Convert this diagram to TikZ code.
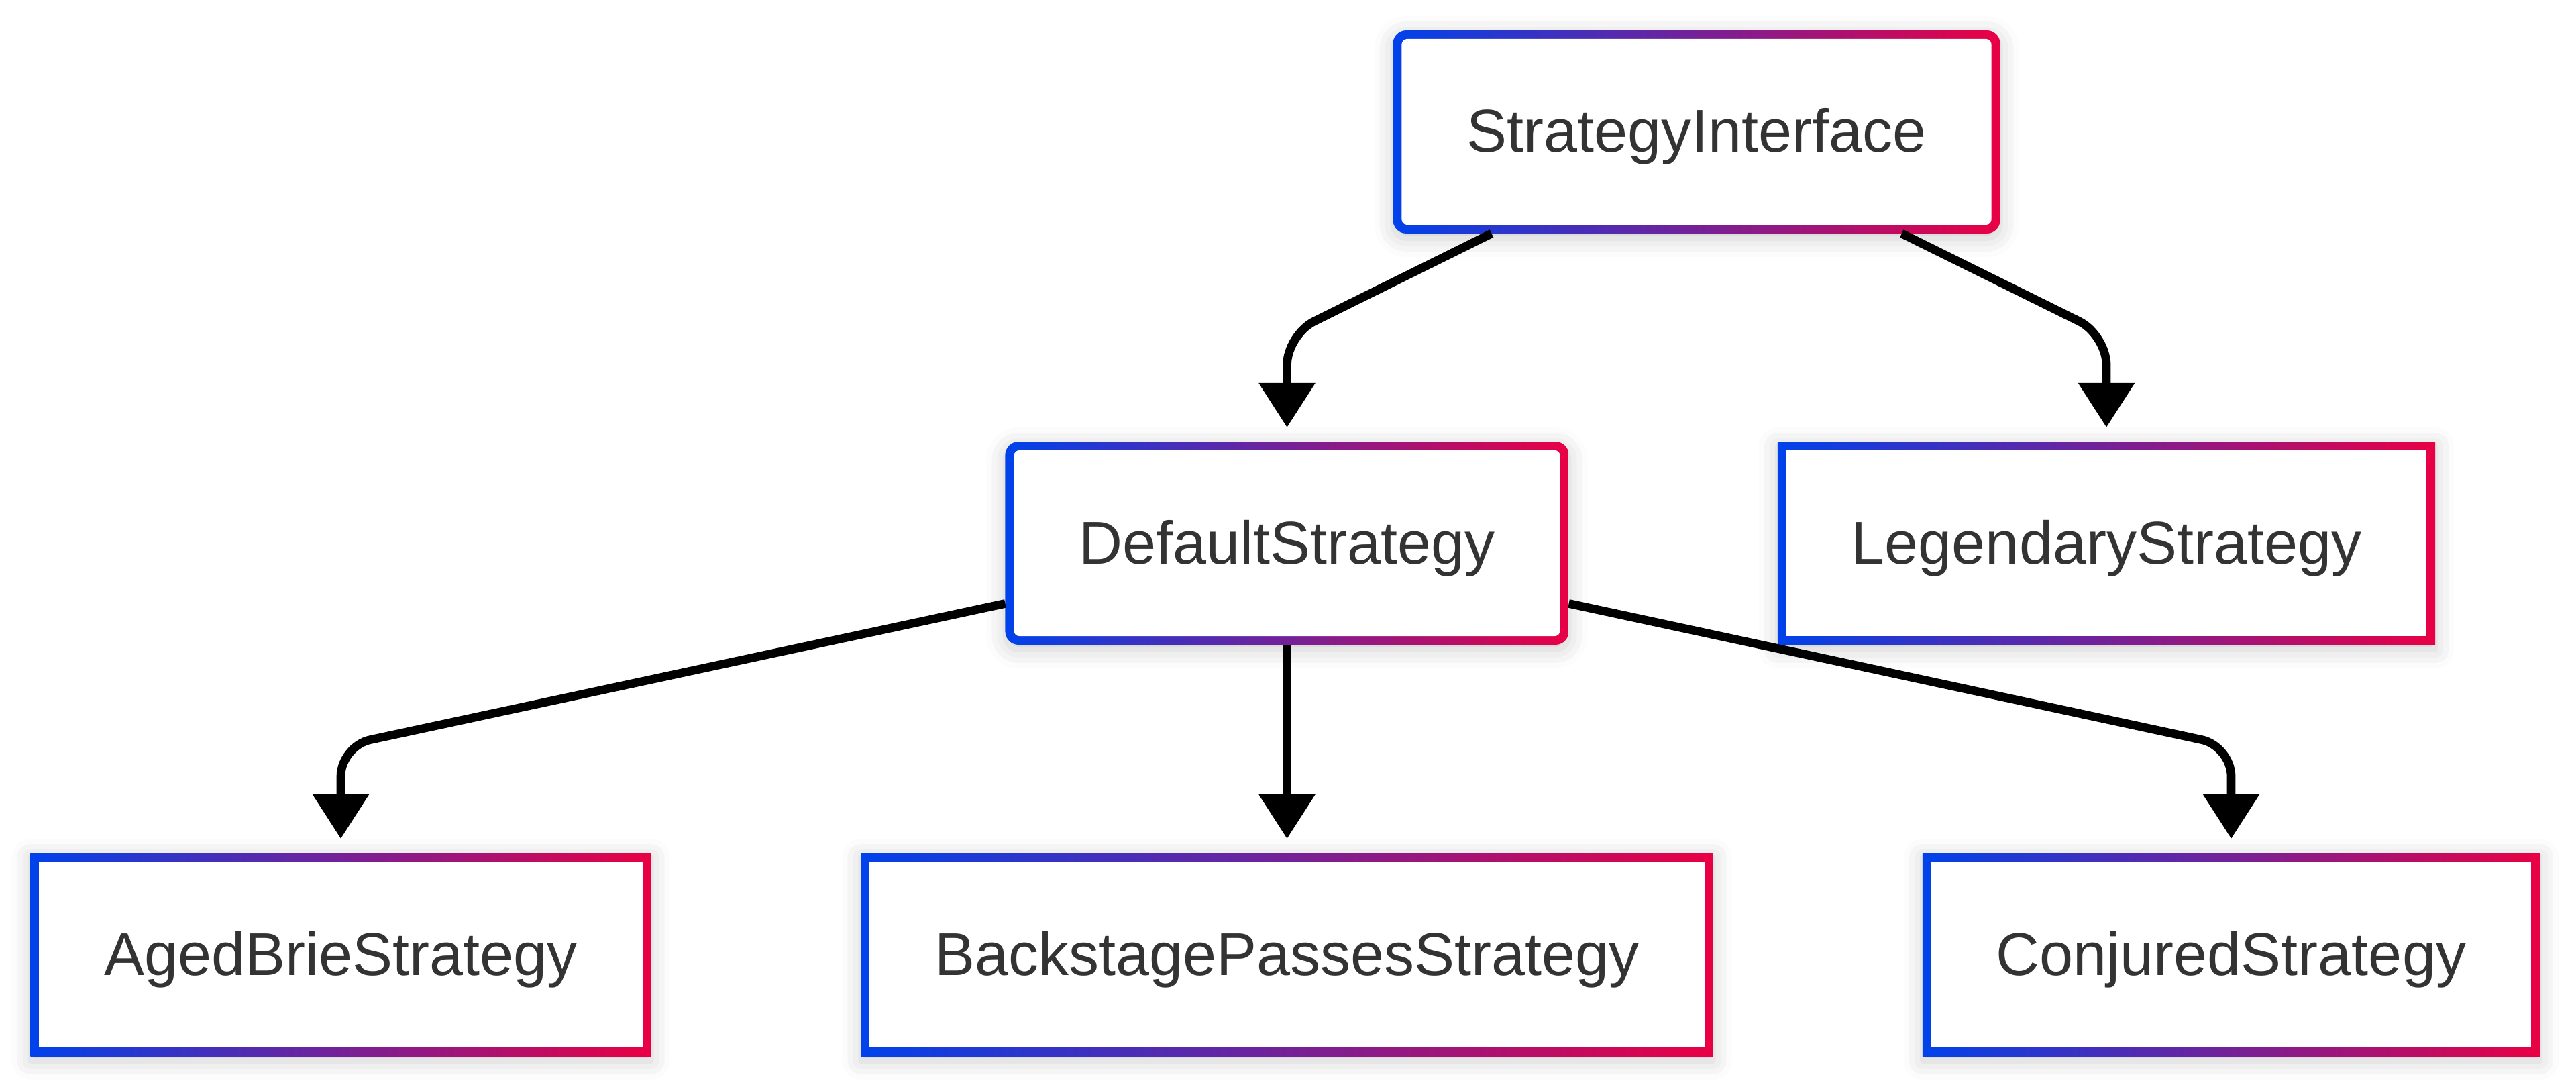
\documentclass[tikz,border=0pt]{standalone}
\usepackage{xcolor}
\usepackage{fontspec}
\setmainfont{Liberation Sans}
\usepackage{tikz}
\usetikzlibrary{shapes.geometric, arrows.meta, positioning, calc, shadows.blur}
\definecolor{cblue}{RGB}{0,66,235}
\definecolor{cred}{RGB}{233,0,68}
\definecolor{ink}{RGB}{51,51,51}
\tikzstyle{cls} = [rectangle, minimum height=3.03cm, inner xsep=1.1cm, outer sep=0pt, text height=0.66cm, text depth=0.05cm, text=ink, font=\fontsize{25.6}{30}\selectfont, blur shadow={shadow xshift=0cm, shadow yshift=-0.07cm, shadow blur radius=0.28cm, shadow opacity=20}, path picture={\shade[left color=cblue, right color=cred] (path picture bounding box.south west) rectangle (path picture bounding box.north east); \fill[white] ([shift={(0.13,0.13)}]path picture bounding box.south west) rectangle ([shift={(-0.13,-0.13)}]path picture bounding box.north east);}]
\tikzstyle{clsround} = [cls, rounded corners=0.2cm, path picture={\shade[left color=cblue, right color=cred] (path picture bounding box.south west) rectangle (path picture bounding box.north east); \fill[white, rounded corners=0.08cm] ([shift={(0.13,0.13)}]path picture bounding box.south west) rectangle ([shift={(-0.13,-0.13)}]path picture bounding box.north east);}]
\tikzstyle{arrow} = [line width=0.127cm, -{Triangle[length=0.66cm, width=0.81cm]}, shorten >=0.21cm, rounded corners=0.45cm]

\begin{document}
\begin{tikzpicture}[node distance=6.13cm]
\useasboundingbox (0,0) rectangle (38.4,-16.23);

\node (si) [clsround] at (25.29,-1.965) {StrategyInterface};
\node (ds) [clsround, below of=si, xshift=-6.105cm] {DefaultStrategy};
\node (ls) [cls, below of=si, xshift=6.11cm] {LegendaryStrategy};
\node (ab) [cls, below of=ds, xshift=-14.105cm] {AgedBrieStrategy};
\node (bp) [cls, below of=ds] {BackstagePassesStrategy};
\node (cj) [cls, below of=ds, xshift=14.075cm] {ConjuredStrategy};

\coordinate (k1) at ($(ds.north)+(0,1.59)$);
\coordinate (k2) at ($(ls.north)+(0,1.59)$);
\coordinate (k3) at ($(ab.north)+(0,1.59)$);
\coordinate (k4) at ($(cj.north)+(0,1.59)$);

\draw [arrow] (si) -- (k1) -- (ds);
\draw [arrow] (si) -- (k2) -- (ls);
\draw [arrow] (ds) -- (k3) -- (ab);
\draw [arrow] (ds) -- (bp);
\draw [arrow] (ds) -- (k4) -- (cj);

\end{tikzpicture}
\end{document}
